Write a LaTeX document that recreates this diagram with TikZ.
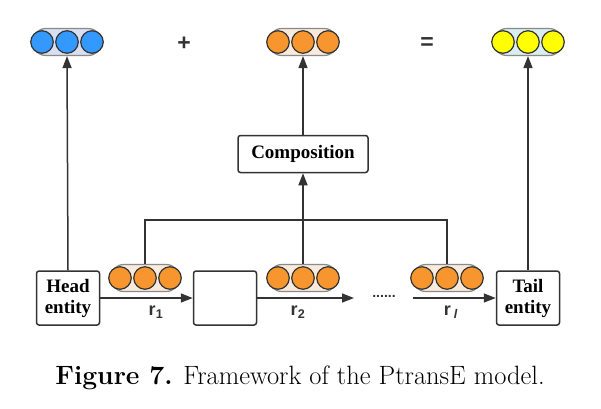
\documentclass[tikz,border=0pt]{standalone}
\usepackage{fontspec}
\newfontfamily\timesfont{Liberation Serif}
\newfontfamily\arialfont{Liberation Sans}
\definecolor{ptBorde}{HTML}{333333}
\definecolor{ptGris}{HTML}{8A8A8A}
\definecolor{ptAzul}{HTML}{3399FF}
\definecolor{ptAzulFondo}{HTML}{D9DFF2}
\definecolor{ptNaranja}{HTML}{F7962F}
\definecolor{ptNaranjaFondo}{HTML}{F8EBDD}
\definecolor{ptAmarillo}{HTML}{FFFF00}
\definecolor{ptAmarilloFondo}{HTML}{DAEDEF}
\usetikzlibrary{
	arrows.meta,
	positioning,
	shapes.misc
}
\tikzset{
	entidad/.style={
		draw=ptBorde,
		line width=1.5pt,
		rounded corners=2.5pt,
		fill=white,
		align=center,
		inner sep=2pt,
		minimum width=63pt,
		minimum height=54pt,
		font=\timesfont\fontsize{19}{21}\selectfont\bfseries
	},
	composicion/.style={
		draw=ptBorde,
		line width=1.5pt,
		rounded corners=2.5pt,
		fill=white,
		inner sep=2pt,
		minimum width=130pt,
		minimum height=37pt,
		font=\timesfont\fontsize{19}{21}\selectfont\bfseries
	},
	vector/.style={
		rounded rectangle,
		draw=ptGris,
		line width=1.2pt,
		minimum width=76pt,
		minimum height=27pt
	},
	bola/.style={
		circle,
		draw=ptBorde,
		line width=1.2pt,
		minimum size=22.5pt,
		inner sep=0pt
	},
	etiqueta/.style={
		font=\arialfont\fontsize{18}{20}\selectfont\bfseries,
		text=ptBorde
	},
	flecha/.style={
		-{Triangle[length=12pt,width=9pt]},
		line width=1.5pt,
		ptBorde
	},
	linea/.style={
		line width=1.3pt,
		ptBorde
	}
}
\newcommand{\vecnodo}[4]{%
	\node[vector, fill=#3] (#1) at (#2) {};
	\foreach \k in {-1,0,1}
		\node[bola, fill=#4, xshift=\k*25pt] at (#1) {};
}

\begin{document}
\begin{tikzpicture}[x=1pt,y=-1pt]
		\useasboundingbox (0,0) rectangle (601,408);
		% vectores de arriba
		\vecnodo{vh}{67,42}{ptAzulFondo}{ptAzul}
		\vecnodo{vc}{303,42}{ptNaranjaFondo}{ptNaranja}
		\vecnodo{vt}{528,42}{ptAmarilloFondo}{ptAmarillo}
		\node[etiqueta, font=\arialfont\fontsize{23}{23}\selectfont\bfseries] (mas) at (184,44) {+};
		\node[etiqueta, font=\arialfont\fontsize{23}{23}\selectfont\bfseries] (igual) at (427,44) {=};
		% composicion
		\node[composicion] (comp) at (303,154) {Composition};
		% entidades y relaciones
		\node[entidad] (head) at (68,298) {Head\\entity};
		\node[entidad] (mid) at (225,298) {};
		\node[entidad] (tail) at (528,298) {Tail\\entity};
		\vecnodo{v1}{145,278}{ptNaranjaFondo}{ptNaranja}
		\vecnodo{v2}{303,278}{ptNaranjaFondo}{ptNaranja}
		\vecnodo{v3}{447,278}{ptNaranjaFondo}{ptNaranja}
		\coordinate (bus) at (303,220);
		\coordinate (r2fin) at (354,298);
		\coordinate (rlini) at (413,298);
		\draw[linea] (v1.north) |- (bus) -| (v3.north);
		\draw[linea] (v2.north) -- (bus);
		\draw[flecha] (bus) -- (comp.south);
		\draw[flecha] (comp.north) -- (vc.south);
		\draw[flecha] (head.north) -- (vh.south);
		\draw[flecha] (tail.north) -- (vt.south);
		\draw[flecha] (head.east) -- (mid.west);
		\draw[flecha] (mid.east) -- (r2fin);
		\draw[flecha] (rlini) -- (tail.west);
		\node[etiqueta] (r1) at (156,312) {r\textsubscript{1}};
		\node[etiqueta] (r2) at (298,312) {r\textsubscript{2}};
		\node[etiqueta] (rl) at (451,312) {r\,\textsubscript{\textit{l}}};
		\node[etiqueta, font=\arialfont\fontsize{14}{14}\selectfont\bfseries] (puntos) at (384,296) {......};
		% pie de figura
		\node[font=\fontsize{26.5}{30}\selectfont] (pie) at (300,378) {\textbf{Figure 7.} Framework of the PtransE model.};
	\end{tikzpicture}
\end{document}
